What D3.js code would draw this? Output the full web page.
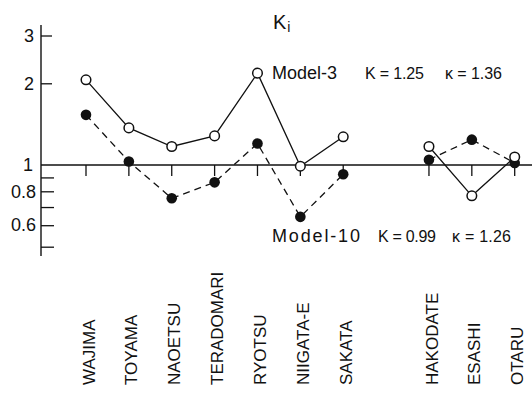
<!DOCTYPE html>
<html>
<head>
<meta charset="utf-8">
<script src="https://cdn.jsdelivr.net/npm/d3@7"></script>
<style>
  body { margin: 0; background: #fff; }
  text { font-family: "Liberation Sans", Arial, sans-serif; fill: #111; }
</style>
</head>
<body>
<script>
  // station names, gap between the two coasts after SAKATA
  var stations = ["WAJIMA", "TOYAMA", "NAOETSU", "TERADOMARI", "RYOTSU",
                  "NIIGATA-E", "SAKATA", "HAKODATE", "ESASHI", "OTARU"];
  var gapAfter = "SAKATA";

  // Ki values
  var model3  = [2.06, 1.37, 1.17, 1.28, 2.18, 0.99, 1.27, 1.17, 0.77, 1.07];
  var model10 = [1.53, 1.03, 0.754, 0.863, 1.20, 0.644, 0.924, 1.046, 1.24, 1.017];

  var majorTicks = [3, 2, 1, 0.8, 0.6];
  var minorTicks = [0.9, 0.7, 0.5];

  var width = 532, height = 393;
  var axisX = 41;

  var svg = d3.select("body").append("svg")
      .attr("width", width)
      .attr("height", height);

  svg.append("rect").attr("width", width).attr("height", height).attr("fill", "#fff");

  // x: point scale with an empty slot for the gap
  var slots = [];
  stations.forEach(function(s) {
    slots.push(s);
    if (s == gapAfter) slots.push("_gap");
  });
  var x = d3.scalePoint().domain(slots).range([86, 514.7]);

  var y = d3.scaleLog().domain([0.5, 3]).range([246.7, 35.5]);

  // y axis line
  svg.append("line")
      .attr("x1", axisX).attr("x2", axisX)
      .attr("y1", y(3.28)).attr("y2", y(0.462))
      .attr("stroke", "#111").attr("stroke-width", 1.4);

  // ticks above 1 are short, below 1 a bit longer
  var upper = d3.axisLeft(y).tickValues([3, 2]).tickSize(-11).tickPadding(7)
      .tickFormat(d3.format("d"));
  var lower = d3.axisLeft(y).tickValues([0.9, 0.8, 0.7, 0.6, 0.5]).tickSize(-13).tickPadding(5)
      .tickFormat(function(d) { return majorTicks.indexOf(d) >= 0 ? d3.format(".1f")(d) : ""; });

  [upper, lower].forEach(function(ax) {
    var g = svg.append("g").attr("transform", "translate(" + axisX + ",0)").call(ax);
    g.select(".domain").remove();
    g.selectAll("line").attr("stroke", "#111").attr("stroke-width", 1.3);
    g.selectAll("text").attr("font-size", 18).attr("fill", "#111")
      .attr("font-family", "Liberation Sans, Arial, sans-serif");
  });

  svg.append("text")
      .attr("x", axisX - 8).attr("y", y(1)).attr("dy", "0.35em")
      .attr("text-anchor", "end").attr("font-size", 18)
      .text("1");

  // reference line at Ki = 1
  svg.append("line")
      .attr("x1", axisX).attr("x2", width)
      .attr("y1", y(1)).attr("y2", y(1))
      .attr("stroke", "#111").attr("stroke-width", 1.4);

  // station ticks
  svg.selectAll(".stick")
    .data(stations)
    .enter().append("line")
      .attr("class", "stick")
      .attr("x1", function(d) { return x(d); })
      .attr("x2", function(d) { return x(d); })
      .attr("y1", y(1)).attr("y2", y(1) + 11)
      .attr("stroke", "#111").attr("stroke-width", 1.3);

  // station labels
  svg.selectAll(".slabel")
    .data(stations)
    .enter().append("text")
      .attr("class", "slabel")
      .attr("transform", function(d) { return "translate(" + (x(d) + 2.5) + ",385) rotate(-90)"; })
      .attr("dy", "0.36em")
      .attr("font-size", 17)
      .text(function(d) { return d; });

  // split each series into the two coast groups
  function segments(vals) {
    var pts = stations.map(function(s, i) { return {s: s, v: vals[i]}; });
    var cut = stations.indexOf(gapAfter) + 1;
    return [pts.slice(0, cut), pts.slice(cut)];
  }

  var line = d3.line()
      .x(function(d) { return x(d.s); })
      .y(function(d) { return y(d.v); });

  svg.selectAll(".m10line")
    .data(segments(model10))
    .enter().append("path")
      .attr("d", line)
      .attr("fill", "none").attr("stroke", "#111")
      .attr("stroke-width", 1.3).attr("stroke-dasharray", "7,5");

  svg.selectAll(".m3line")
    .data(segments(model3))
    .enter().append("path")
      .attr("d", line)
      .attr("fill", "none").attr("stroke", "#111")
      .attr("stroke-width", 1.3);

  svg.selectAll(".m10dot")
    .data(stations)
    .enter().append("circle")
      .attr("cx", function(d) { return x(d); })
      .attr("cy", function(d, i) { return y(model10[i]); })
      .attr("r", 5.3)
      .attr("fill", "#111");

  svg.selectAll(".m3dot")
    .data(stations)
    .enter().append("circle")
      .attr("cx", function(d) { return x(d); })
      .attr("cy", function(d, i) { return y(model3[i]); })
      .attr("r", 4.8)
      .attr("fill", "#fff").attr("stroke", "#111").attr("stroke-width", 1.5);

  // title K_i
  var title = svg.append("text").attr("x", 273).attr("y", 29).attr("font-size", 20);
  title.append("tspan").text("K");
  title.append("tspan").attr("dx", 1).attr("dy", 3).attr("font-size", 14).text("i");

  // model annotations
  svg.append("text").attr("x", 272).attr("y", 79).attr("font-size", 18).text("Model-3");
  svg.append("text").attr("x", 365).attr("y", 79).attr("font-size", 16)
      .attr("textLength", 59).text("K = 1.25");
  svg.append("text").attr("x", 445).attr("y", 79).attr("font-size", 16)
      .attr("textLength", 57).text("κ = 1.36");

  svg.append("text").attr("x", 272).attr("y", 242).attr("font-size", 18)
      .attr("textLength", 88).text("Model-10");
  svg.append("text").attr("x", 378).attr("y", 242).attr("font-size", 16)
      .attr("textLength", 58).text("K = 0.99");
  svg.append("text").attr("x", 452).attr("y", 242).attr("font-size", 16)
      .attr("textLength", 59).text("κ = 1.26");
</script>
</body>
</html>
